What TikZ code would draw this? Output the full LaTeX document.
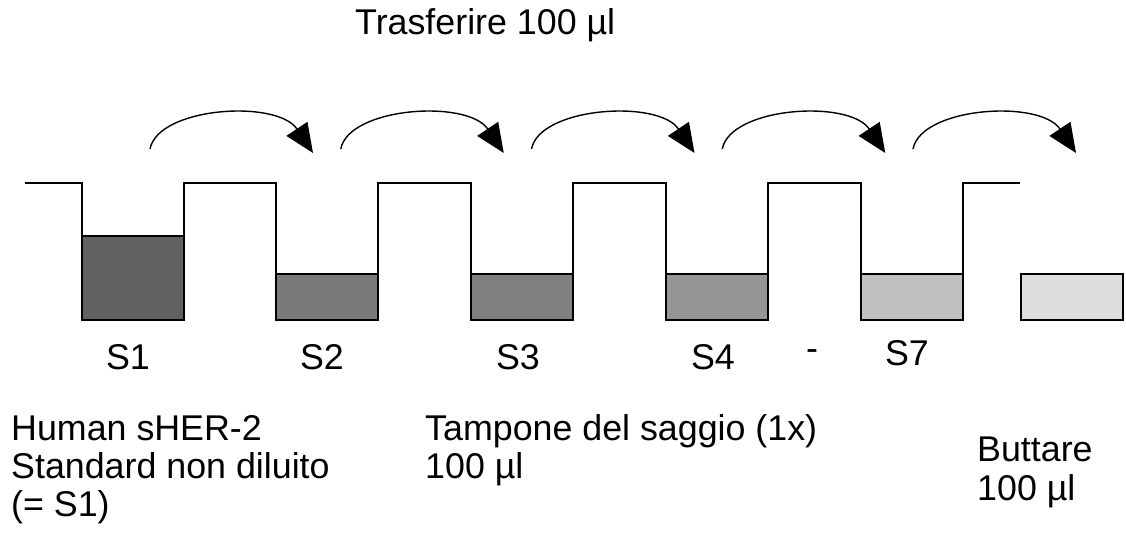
\documentclass[tikz,border=0pt]{standalone}
\usepackage{fontspec}
\setmainfont{Liberation Sans}
\usetikzlibrary{arrows.meta,calc}
\definecolor{cS1}{HTML}{616161}
\definecolor{cS2}{HTML}{7A7A7A}
\definecolor{cS3}{HTML}{808080}
\definecolor{cS4}{HTML}{969696}
\definecolor{cS7}{HTML}{C0C0C0}
\definecolor{cW}{HTML}{DDDDDD}
\tikzset{
  lbl/.style={inner sep=0pt, anchor=base west, font=\fontsize{35.8}{38}\selectfont},
  slbl/.style={inner sep=0pt, anchor=base, font=\fontsize{35.8}{38}\selectfont},
  liquid/.style={draw=black, line width=1.5pt},
  wellline/.style={draw=black, line width=1.5pt, line join=miter},
  transfer/.style={draw=black, line width=1.4pt, -{Triangle[length=29pt,width=25pt]}}
}
\begin{document}
\begin{tikzpicture}[x=1pt,y=-1pt]
\useasboundingbox (0,0) rectangle (1126,545);
% liquids
\fill[cS1] (82,236) rectangle (184,320);
\draw[liquid] (82,236) -- (184,236);
\fill[cS2] (276,274) rectangle (378,320);
\draw[liquid] (276,274) -- (378,274);
\fill[cS3] (471,274) rectangle (573,320);
\draw[liquid] (471,274) -- (573,274);
\fill[cS4] (666,274) rectangle (768,320);
\draw[liquid] (666,274) -- (768,274);
\fill[cS7] (861,274) rectangle (963,320);
\draw[liquid] (861,274) -- (963,274);
\draw[liquid, fill=cW] (1021,274) rectangle (1123,320);
% plate profile
\draw[wellline] (25,183) -- (82,183) -- (82,320) -- (184,320) -- (184,183)
  -- (276,183) -- (276,320) -- (378,320) -- (378,183)
  -- (471,183) -- (471,320) -- (573,320) -- (573,183)
  -- (666,183) -- (666,320) -- (768,320) -- (768,183)
  -- (861,183) -- (861,320) -- (963,320) -- (963,183) -- (1020,183);
% transfer arrows
\foreach \i in {0,...,4}{
  \coordinate (a\i) at ({150+190.75*\i},149);
  \coordinate (b\i) at ({313+190.75*\i},153);
  \draw[transfer] (a\i) .. controls ($(a\i)+(8,-42)$) and ($(b\i)+(-36,-54)$) .. (b\i);
}
% texts
\node[lbl] (title) at (355,35) {Trasferire 100 µl};
\node[slbl] (s1) at (128,369) {S1};
\node[slbl] (s2) at (322,369) {S2};
\node[slbl] (s3) at (518,369) {S3};
\node[slbl] (s4) at (713,369) {S4};
\node[slbl] (dash) at (812,360) {-};
\node[slbl] (s7) at (907,365) {S7};
\node[lbl] (h1) at (11,440) {Human sHER-2};
\node[lbl] (h2) at (11,478) {Standard non diluito};
\node[lbl] (h3) at (11,516) {(= S1)};
\node[lbl] (t1) at (425,440) {Tampone del saggio (1x)};
\node[lbl] (t2) at (425,478) {100 µl};
\node[lbl] (bt1) at (977,461) {Buttare};
\node[lbl] (bt2) at (977,500) {100 µl};
\end{tikzpicture}
\end{document}
